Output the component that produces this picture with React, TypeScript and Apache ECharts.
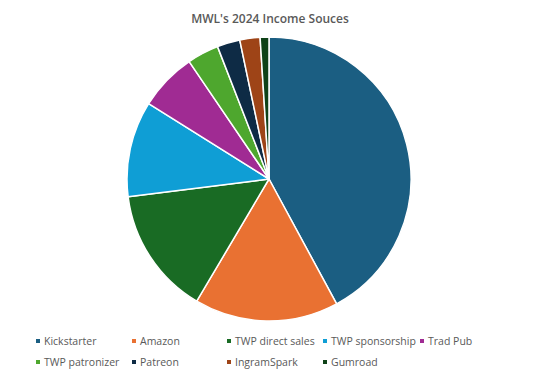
import React, { useEffect, useRef } from "react";
import * as echarts from "echarts";

const categories = [
  "Kickstarter",
  "Amazon",
  "TWP direct sales",
  "TWP sponsorship",
  "Trad Pub",
  "TWP patronizer",
  "Patreon",
  "IngramSpark",
  "Gumroad",
];
const values = [42.1, 16.4, 14.5, 10.9, 6.6, 3.6, 2.6, 2.3, 1.0];
const colors = [
  "#1B5E82",
  "#E97132",
  "#196B24",
  "#0F9ED5",
  "#A02B93",
  "#4EA72E",
  "#0E2B45",
  "#9E4417",
  "#0F4218",
];
const legendColumns = [
  ["Kickstarter", "TWP patronizer"],
  ["Amazon", "Patreon"],
  ["TWP direct sales", "IngramSpark"],
  ["TWP sponsorship", "Gumroad"],
  ["Trad Pub"],
];
const legendLefts = [34, 130, 225, 321, 418];

export default function App() {
  const ref = useRef<HTMLDivElement>(null);
  useEffect(() => {
    if (!ref.current) return;
    const chart = echarts.init(ref.current, null, { renderer: "svg" });
    chart.setOption({
      animation: false,
      backgroundColor: "#ffffff",
      title: {
        text: "MWL's 2024 Income Souces",
        left: "center",
        top: 7,
        textStyle: {
          fontFamily: "Open Sans",
          fontSize: 12,
          fontWeight: 600,
          color: "#595959",
        },
      },
      legend: legendColumns.map((col, i) => ({
        data: col,
        orient: "vertical",
        left: legendLefts[i],
        top: 334,
        icon: "rect",
        itemWidth: 6,
        itemHeight: 6,
        itemGap: 7,
        padding: 0,
        textStyle: {
          fontFamily: "Open Sans",
          fontSize: 10.5,
          color: "#595959",
          lineHeight: 14,
          padding: [0, 0, 0, -2],
        },
      })),
      series: [
        {
          type: "pie",
          center: [269, 179],
          radius: 142,
          startAngle: 90,
          clockwise: true,
          label: { show: false },
          labelLine: { show: false },
          itemStyle: { borderColor: "#ffffff", borderWidth: 1.5 },
          data: categories.map((name, i) => ({
            name,
            value: values[i],
            itemStyle: { color: colors[i] },
          })),
        },
      ],
    });
    return () => chart.dispose();
  }, []);
  return (
    <div
      ref={ref}
      style={{ position: "absolute", left: 0, top: 0, width: 540, height: 377 }}
    />
  );
}
